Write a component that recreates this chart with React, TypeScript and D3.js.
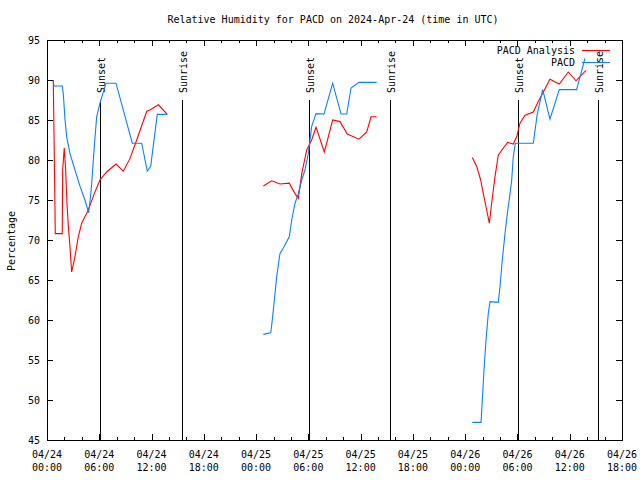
import React, { useRef, useEffect } from 'react';
import * as d3 from 'd3';

// hours after 2024-04-24 00:00 UTC, relative humidity in percent
const analysisDay1: [number, number][] = [
  [0.72, 90.0], [0.84, 80.4], [0.95, 70.8], [1.75, 70.8], [1.8, 78.8], [1.98, 81.5],
  [2.14, 78.8], [2.29, 74.6], [2.45, 71.7], [2.61, 69.6], [2.76, 67.1], [2.83, 66.0],
  [3.21, 67.9], [3.59, 70.4], [3.98, 72.1], [4.74, 73.75], [5.43, 75.8], [6.08, 77.5],
  [6.85, 78.5], [7.92, 79.5], [8.76, 78.6], [9.53, 80.2], [10.3, 82.5], [11.45, 86.1],
  [11.82, 86.25], [12.78, 86.9], [13.81, 85.7],
];
const analysisDay2: [number, number][] = [
  [24.83, 76.75], [25.79, 77.4], [26.74, 77.0], [27.81, 77.1], [28.47, 75.8], [28.85, 75.2],
  [29.24, 78.3], [29.81, 81.25], [30.38, 82.5], [30.88, 84.1], [31.83, 81.0], [32.29, 82.9],
  [32.79, 85.0], [33.63, 84.8], [34.47, 83.25], [35.81, 82.6], [36.7, 83.5], [37.19, 85.4],
  [37.84, 85.4],
];
const analysisDay3: [number, number][] = [
  [48.82, 80.3], [49.32, 79.2], [49.78, 77.5], [50.08, 75.8], [50.47, 73.75], [50.77, 72.1],
  [51.04, 74.6], [51.42, 77.9], [51.8, 80.6], [52.38, 81.5], [52.88, 82.2], [53.52, 82.0],
  [53.91, 82.9], [54.29, 84.6], [54.87, 85.6], [55.82, 86.0], [56.39, 87.3], [56.97, 88.5],
  [57.73, 90.1], [58.8, 89.5], [59.84, 91.0], [60.72, 89.9], [61.87, 91.2],
];

const obsDay1: [number, number][] = [
  [0.72, 89.8], [0.8, 89.25], [1.75, 89.25], [1.87, 88.3], [2.07, 85.0], [2.26, 82.9],
  [2.64, 80.8], [3.21, 78.75], [3.79, 76.7], [4.36, 75.0], [4.78, 73.4], [5.01, 75.6],
  [5.13, 77.1], [5.43, 81.7], [5.7, 85.4], [6.08, 87.1], [6.77, 89.6], [7.92, 89.6],
  [9.79, 82.1], [10.87, 82.1], [11.51, 78.6], [11.9, 79.2], [12.66, 85.7], [13.81, 85.7],
];
const obsDay2: [number, number][] = [
  [24.83, 58.2], [25.68, 58.4], [25.86, 60.0], [26.17, 63.3], [26.36, 65.4], [26.74, 68.3],
  [27.12, 69.0], [27.81, 70.4], [28.09, 72.5], [28.47, 74.6], [28.85, 75.8], [29.24, 77.5],
  [29.61, 78.75], [29.99, 80.8], [30.38, 84.2], [30.88, 85.8], [31.8, 85.75], [32.79, 89.6],
  [33.75, 85.75], [34.4, 85.75], [34.9, 89.0], [35.81, 89.7], [37.84, 89.7],
];
const obsDay3: [number, number][] = [
  [48.82, 47.2], [49.82, 47.2], [49.97, 50.0], [50.16, 53.75], [50.39, 57.5], [50.65, 60.8],
  [50.85, 62.3], [51.8, 62.2], [52.0, 64.2], [52.26, 67.5], [52.57, 70.8], [52.84, 73.3],
  [53.15, 75.8], [53.34, 77.5], [53.52, 80.4], [53.75, 82.1], [55.82, 82.1], [56.28, 85.8],
  [56.9, 88.8], [57.73, 85.1], [58.8, 88.8], [60.79, 88.8], [61.75, 92.7],
];

const sunsets = [6.03, 30.08, 54.1];
const sunrises = [15.46, 39.41, 63.28];
const yTicks = [45, 50, 55, 60, 65, 70, 75, 80, 85, 90, 95];

const START = Date.UTC(2024, 3, 24, 0, 0);
const END = Date.UTC(2024, 3, 26, 18, 0);
const toDate = (h: number) => new Date(START + h * 3600 * 1000);

const RED = '#ff0000';
const BLUE = '#0a80ff';
const FONT = '"DejaVu Sans Mono", monospace';

const App: React.FC = () => {
  const svgRef = useRef<SVGSVGElement>(null);

  useEffect(() => {
    if (!svgRef.current) return;
    const svg = d3.select(svgRef.current);
    svg.selectAll('*').remove();

    const left = 47, right = 622, top = 40, bottom = 440;
    const x = d3.scaleUtc().domain([new Date(START), new Date(END)]).range([left, right]);
    const y = d3.scaleLinear().domain([45, 95]).range([bottom, top]);

    svg.append('rect').attr('width', 640).attr('height', 480).attr('fill', 'white');

    const majors = x.ticks(d3.utcHour.every(6)!);
    const minors = x.ticks(d3.utcHour.every(2)!);

    const ticks = svg.append('g').attr('stroke', 'black').attr('shape-rendering', 'crispEdges');
    minors.forEach(d => {
      const len = majors.some(m => +m === +d) ? 6 : 3;
      const px = Math.round(x(d)) + 0.5;
      ticks.append('line').attr('x1', px).attr('x2', px).attr('y1', bottom).attr('y2', bottom - len);
      ticks.append('line').attr('x1', px).attr('x2', px).attr('y1', top).attr('y2', top + len);
    });
    yTicks.forEach(v => {
      const py = Math.round(y(v)) + 0.5;
      ticks.append('line').attr('x1', left).attr('x2', left + 6).attr('y1', py).attr('y2', py);
      ticks.append('line').attr('x1', right).attr('x2', right - 6).attr('y1', py).attr('y2', py);
    });

    // border
    svg.append('rect')
      .attr('x', left + 0.5).attr('y', top + 0.5)
      .attr('width', right - left).attr('height', bottom - top)
      .attr('fill', 'none').attr('stroke', 'black').attr('shape-rendering', 'crispEdges');

    const text = svg.append('g').style('font-family', FONT).style('font-size', '10px').attr('fill', 'black');

    yTicks.forEach(v => {
      text.append('text').attr('x', 40).attr('y', y(v) + 4).attr('text-anchor', 'end').text(v);
    });
    const fmtDay = d3.utcFormat('%m/%d');
    const fmtTime = d3.utcFormat('%H:%M');
    majors.forEach(d => {
      text.append('text').attr('x', x(d)).attr('y', 458).attr('text-anchor', 'middle').text(fmtDay(d));
      text.append('text').attr('x', x(d)).attr('y', 471).attr('text-anchor', 'middle').text(fmtTime(d));
    });

    text.append('text').attr('x', 333).attr('y', 23).attr('text-anchor', 'middle')
      .text('Relative Humidity for PACD on 2024-Apr-24 (time in UTC)');
    text.append('text').attr('transform', 'translate(15,241) rotate(-90)').attr('text-anchor', 'middle')
      .text('Percentage');

    // sunset / sunrise markers
    const sun = [
      ...sunsets.map(h => ({ h, label: 'Sunset' })),
      ...sunrises.map(h => ({ h, label: 'Sunrise' })),
    ];
    sun.forEach(s => {
      const px = Math.round(x(toDate(s.h))) + 0.5;
      svg.append('line').attr('x1', px).attr('x2', px).attr('y1', 100).attr('y2', bottom)
        .attr('stroke', 'black').attr('shape-rendering', 'crispEdges');
      text.append('text').attr('transform', `translate(${px + 4},93) rotate(-90)`).text(s.label);
    });

    const line = d3.line<[number, number]>().x(d => x(toDate(d[0]))).y(d => y(d[1]));
    [analysisDay1, analysisDay2, analysisDay3].forEach(seg => {
      svg.append('path').datum(seg).attr('d', line).attr('fill', 'none').attr('stroke', RED).attr('stroke-width', 1.1);
    });
    [obsDay1, obsDay2, obsDay3].forEach(seg => {
      svg.append('path').datum(seg).attr('d', line).attr('fill', 'none').attr('stroke', BLUE).attr('stroke-width', 1.1);
    });

    // legend
    const legend = [
      { label: 'PACD Analysis', color: RED, y: 50 },
      { label: 'PACD', color: BLUE, y: 62 },
    ];
    legend.forEach(l => {
      text.append('text').attr('x', 575).attr('y', l.y + 4).attr('text-anchor', 'end').text(l.label);
      svg.append('line').attr('x1', 582).attr('x2', 610).attr('y1', l.y + 0.5).attr('y2', l.y + 0.5)
        .attr('stroke', l.color).attr('shape-rendering', 'crispEdges');
    });
  }, []);

  return (
    <svg
      ref={svgRef}
      width={640}
      height={480}
      style={{ position: 'absolute', left: 0, top: 0, display: 'block' }}
    />
  );
};

export default App;
